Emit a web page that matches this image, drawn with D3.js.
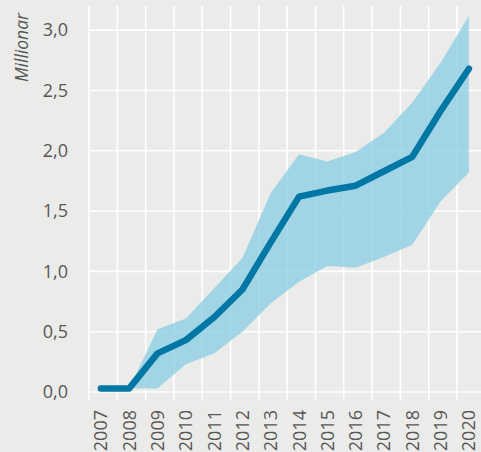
<!DOCTYPE html>
<html>
<head>
<meta charset="utf-8">
<script src="https://cdn.jsdelivr.net/npm/d3@7"></script>
<style>
  html, body { margin: 0; padding: 0; background: #ebece9; }
  svg { display: block; font-family: "Open Sans", sans-serif; }
</style>
</head>
<body>
<div id="chart"></div>
<script>
(() => {
  const years = [2007, 2008, 2009, 2010, 2011, 2012, 2013, 2014, 2015, 2016, 2017, 2018, 2019, 2020];
  const central = [0.03, 0.03, 0.32, 0.43, 0.62, 0.85, 1.24, 1.62, 1.67, 1.71, 1.83, 1.95, 2.33, 2.68];
  const upper = [0.03, 0.03, 0.52, 0.61, 0.86, 1.11, 1.65, 1.97, 1.91, 1.99, 2.15, 2.40, 2.73, 3.12];
  const lower = [0.03, 0.03, 0.03, 0.23, 0.32, 0.50, 0.735, 0.915, 1.045, 1.03, 1.12, 1.22, 1.58, 1.82];
  const yTicks = [0, 0.5, 1, 1.5, 2, 2.5, 3];
  const yTitle = "Millionar";

  const width = 481;
  const height = 452;
  const left = 89;
  const bottom = 392;
  const top = 6;
  const mid = 0.42; // data sit part-way into each year

  const x = d3.scaleLinear().domain([2007, 2020]).range([left, 457]);
  const y = d3.scaleLinear().domain([0, 3.2]).range([bottom, top]);
  const fmt = (v) => d3.format(".1f")(v).replace(".", ",");

  const svg = d3.select("#chart").append("svg").attr("width", width).attr("height", height);
  svg.append("rect").attr("width", width).attr("height", height).attr("fill", "#ebece9");

  // grid
  svg.append("g").selectAll("line").data(yTicks).join("line")
    .attr("x1", left).attr("x2", width)
    .attr("y1", (d) => y(d)).attr("y2", (d) => y(d))
    .attr("stroke", "#fff").attr("stroke-width", 1.6);
  svg.append("g").selectAll("line").data(years).join("line")
    .attr("x1", (d) => x(d)).attr("x2", (d) => x(d))
    .attr("y1", top).attr("y2", bottom + 8)
    .attr("stroke", "#fff").attr("stroke-width", 1.6);

  // band
  const rows = years.map((yr, i) => ({ yr, c: central[i], lo: lower[i], hi: upper[i] }));
  svg.append("path").datum(rows)
    .attr("d", d3.area().x((d) => x(d.yr + mid)).y0((d) => y(d.lo)).y1((d) => y(d.hi)))
    .attr("fill", "#8fd0e5").attr("fill-opacity", 0.8);

  // line
  svg.append("path").datum(rows)
    .attr("d", d3.line().x((d) => x(d.yr + mid)).y((d) => y(d.c)))
    .attr("fill", "none").attr("stroke", "#0077a4").attr("stroke-width", 6.5)
    .attr("stroke-linecap", "round").attr("stroke-linejoin", "round");

  // y labels
  svg.append("g").selectAll("text").data(yTicks).join("text")
    .attr("x", 68).attr("y", (d) => y(d)).attr("dy", "0.35em")
    .attr("text-anchor", "end").attr("fill", "#575757").attr("font-size", 18)
    .text(fmt);

  // x labels
  svg.append("g").selectAll("text").data(years).join("text")
    .attr("transform", (d) => `translate(${x(d + mid)},410) rotate(-90)`)
    .attr("dy", "0.36em").attr("text-anchor", "end")
    .attr("fill", "#575757").attr("font-size", 18)
    .text((d) => d);

  svg.append("text")
    .attr("transform", "translate(22,13) rotate(-90)")
    .attr("dy", "0.35em").attr("text-anchor", "end")
    .attr("fill", "#575757").attr("font-size", 17.5).attr("font-style", "italic")
    .text(yTitle);
})();
</script>
</body>
</html>
